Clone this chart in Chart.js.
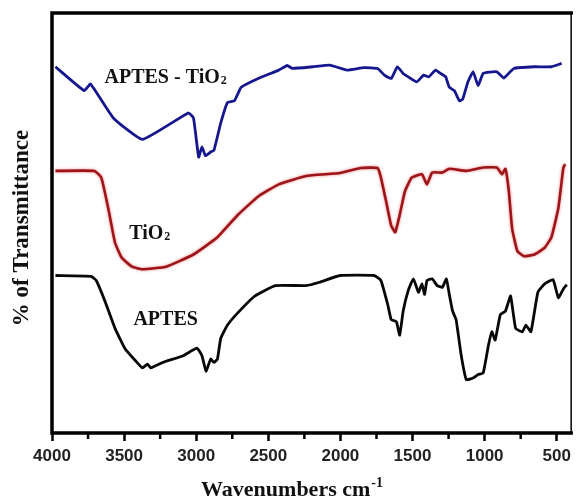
<!DOCTYPE html>
<html>
<head>
<meta charset="utf-8">
<script src="https://cdn.jsdelivr.net/npm/chart.js@4.4.0/dist/chart.umd.min.js"></script>
<style>
  html, body { margin: 0; padding: 0; background: #fff; }
  #wrap { width: 576px; height: 498px; }
</style>
</head>
<body>
<div id="wrap"><canvas id="ftir"></canvas></div>
<script>
// FTIR spectra — APTES, TiO2 and APTES-TiO2 (stacked, arbitrary % T units)

// APTES - TiO2 (blue, top)
const aptesTio2Wn = [3976, 3776, 3733, 3575, 3373, 3055, 3019, 2983, 2960, 2936, 2900, 2877, 2830, 2783, 2735, 2688, 2570, 2428, 2369, 2333, 2192, 2073, 1955, 1837, 1742, 1695, 1648, 1605, 1565, 1530, 1470, 1423, 1388, 1340, 1305, 1270, 1245, 1210, 1175, 1152, 1116, 1080, 1045, 1010, 915, 867, 797, 655, 537, 466];
const aptesTio2T  = [87.2, 81.5, 83.1, 75.0, 69.9, 76.2, 75.0, 65.7, 68.1, 66.0, 66.9, 67.3, 73.8, 78.7, 79.1, 82.3, 84.4, 86.4, 87.5, 86.8, 87.2, 87.6, 86.4, 87.0, 86.8, 85.2, 84.4, 87.2, 85.6, 84.8, 83.6, 85.2, 84.8, 86.4, 85.6, 84.8, 82.3, 81.5, 79.1, 79.5, 83.6, 86.0, 82.7, 85.6, 86.0, 84.5, 86.8, 87.2, 87.2, 88.0];

// TiO2 (red, middle)
const tio2Wn = [3976, 3705, 3658, 3610, 3563, 3516, 3445, 3373, 3208, 3019, 2853, 2712, 2570, 2428, 2239, 2002, 1860, 1742, 1719, 1683, 1648, 1620, 1589, 1553, 1506, 1435, 1400, 1364, 1293, 1245, 1127, 1010, 915, 880, 856, 832, 809, 773, 726, 655, 584, 537, 489, 454, 442];
const tio2T  = [62.4, 62.4, 60.8, 53.5, 45.3, 41.7, 39.6, 39.0, 39.6, 42.5, 46.6, 51.9, 56.3, 59.2, 61.2, 61.9, 63.1, 63.1, 60.8, 55.1, 49.4, 47.8, 51.9, 57.5, 60.8, 61.6, 59.2, 62.0, 62.0, 62.9, 62.4, 63.2, 63.2, 61.6, 62.9, 57.5, 48.6, 43.3, 42.1, 42.5, 44.1, 46.6, 53.5, 63.2, 64.0];

// APTES (black, bottom)
const aptesWn = [3976, 3728, 3693, 3633, 3563, 3492, 3421, 3373, 3338, 3315, 3232, 3090, 2995, 2960, 2932, 2900, 2877, 2853, 2830, 2783, 2712, 2594, 2452, 2239, 2145, 2002, 1766, 1719, 1672, 1648, 1612, 1589, 1565, 1530, 1494, 1459, 1435, 1416, 1400, 1364, 1329, 1293, 1265, 1245, 1222, 1198, 1162, 1127, 1080, 1045, 1010, 974, 950, 927, 891, 856, 820, 785, 738, 714, 679, 631, 584, 525, 489, 454, 430];
const aptesT  = [37.5, 37.3, 36.3, 31.4, 24.9, 20.0, 17.2, 15.5, 16.4, 15.5, 16.8, 18.4, 20.2, 18.4, 14.7, 17.6, 16.8, 17.6, 22.5, 25.7, 28.6, 32.6, 35.1, 35.1, 35.9, 37.5, 37.5, 36.3, 30.6, 27.0, 26.5, 23.3, 29.0, 33.9, 36.7, 33.5, 35.5, 33.0, 36.3, 36.7, 35.1, 34.7, 36.7, 33.0, 29.0, 27.0, 18.4, 12.7, 13.1, 13.9, 14.3, 20.8, 24.1, 22.1, 28.2, 29.0, 32.6, 24.9, 24.1, 25.7, 24.1, 33.5, 35.5, 36.5, 32.2, 34.3, 35.3];

// axis ticks
const xMajorTicks = [4000, 3500, 3000, 2500, 2000, 1500, 1000, 500];
const xMinorTicks = [3750, 3250, 2750, 2250, 1750, 1250, 750];

// curve labels: [text, subscript, wavenumber, %T]
const curveLabels = [
  ['APTES - TiO', '2', 3212, 85.0],
  ['TiO', '2', 3322, 47.9],
  ['APTES', '', 3212, 27.4]
];

const toPoints = (wn, t) => wn.map((w, i) => ({ x: w, y: t[i] }));

const serifBold = (px) => `bold ${px}px "Liberation Serif", "Times New Roman", serif`;

// draws text with an optional sub/superscript part, centred on x
const drawRich = (ctx, main, extra, x, y, px, mode) => {
  const small = Math.round(px * 0.62);
  ctx.font = serifBold(px);
  const w1 = ctx.measureText(main).width;
  ctx.font = serifBold(small);
  const w2 = extra ? ctx.measureText(extra).width + 1 : 0;
  const start = x - (w1 + w2) / 2;
  ctx.textAlign = 'left';
  ctx.textBaseline = 'alphabetic';
  const base = y + px * 0.34;
  ctx.font = serifBold(px);
  ctx.fillText(main, start, base);
  if (extra) {
    ctx.font = serifBold(small);
    const dy = mode === 'sup' ? -px * 0.42 : px * 0.08;
    ctx.fillText(extra, start + w1 + 1, base + dy);
  }
};

const framePlugin = {
  id: 'frame',
  beforeDatasetDraw(chart, args) {
    const ctx = chart.ctx;
    if (args.index === 1) {
      ctx.save();
      ctx.shadowColor = 'rgba(235,120,120,0.9)';
      ctx.shadowBlur = 3;
    }
  },
  afterDatasetDraw(chart, args) {
    if (args.index === 1) chart.ctx.restore();
  },
  afterDraw(chart) {
    const { ctx, chartArea: a, scales } = chart;
    ctx.save();
    ctx.strokeStyle = '#000';
    ctx.lineCap = 'square';
    // frame: left, top, bottom heavy, right light
    ctx.lineWidth = 3.5;
    ctx.beginPath();
    ctx.moveTo(a.right, a.top); ctx.lineTo(a.left, a.top);
    ctx.lineTo(a.left, a.bottom); ctx.lineTo(a.right, a.bottom);
    ctx.stroke();
    ctx.lineWidth = 1.5;
    ctx.beginPath();
    ctx.moveTo(a.right, a.top); ctx.lineTo(a.right, a.bottom);
    ctx.stroke();

    // minor ticks
    ctx.lineWidth = 2.5;
    ctx.lineCap = 'butt';
    xMinorTicks.forEach(v => {
      const px = scales.x.getPixelForValue(v);
      ctx.beginPath();
      ctx.moveTo(px, a.bottom);
      ctx.lineTo(px, a.bottom + 6);
      ctx.stroke();
    });

    // curve labels
    ctx.fillStyle = '#111';
    curveLabels.forEach(([main, sub, wn, t]) => {
      drawRich(ctx, main, sub, scales.x.getPixelForValue(wn), scales.y.getPixelForValue(t), 20, 'sub');
    });

    // axis titles
    drawRich(ctx, 'Wavenumbers cm', '-1', 292, 489, 22, 'sup');
    ctx.save();
    ctx.translate(20, (a.top + a.bottom) / 2 + 5);
    ctx.rotate(-Math.PI / 2);
    drawRich(ctx, '% of Transmittance', '', 0, 0, 23, '');
    ctx.restore();
    ctx.restore();
  }
};

new Chart(document.getElementById('ftir'), {
  type: 'line',
  data: {
    datasets: [
      { label: 'APTES - TiO2', data: toPoints(aptesTio2Wn, aptesTio2T), borderColor: '#16178f', borderWidth: 2.8 },
      { label: 'TiO2', data: toPoints(tio2Wn, tio2T), borderColor: '#9e1519', borderWidth: 2.6 },
      { label: 'APTES', data: toPoints(aptesWn, aptesT), borderColor: '#080808', borderWidth: 2.8 }
    ]
  },
  options: {
    responsive: true,
    maintainAspectRatio: false,
    animation: false,
    layout: { padding: { top: 13, right: 3, left: 0, bottom: 0 } },
    elements: { point: { radius: 0 }, line: { tension: 0.12, fill: false } },
    plugins: { legend: { display: false }, tooltip: { enabled: false } },
    scales: {
      x: {
        type: 'linear',
        reverse: true,
        min: 400,
        max: 4000,
        afterBuildTicks: (s) => { s.ticks = xMajorTicks.map(v => ({ value: v })); },
        afterFit: (s) => { s.height = 65; },
        ticks: {
          color: '#222',
          padding: 5,
          callback: (v) => String(v),
          font: { family: '"Liberation Sans", Arial, sans-serif', size: 17, weight: 'bold' }
        },
        grid: { drawOnChartArea: false, drawTicks: true, tickLength: 8, tickWidth: 2.5, tickColor: '#000' },
        border: { display: false }
      },
      y: {
        min: 0,
        max: 100,
        afterFit: (s) => { s.width = 52; },
        ticks: { display: false },
        grid: { display: false },
        border: { display: false }
      }
    }
  },
  plugins: [framePlugin]
});
</script>
</body>
</html>
